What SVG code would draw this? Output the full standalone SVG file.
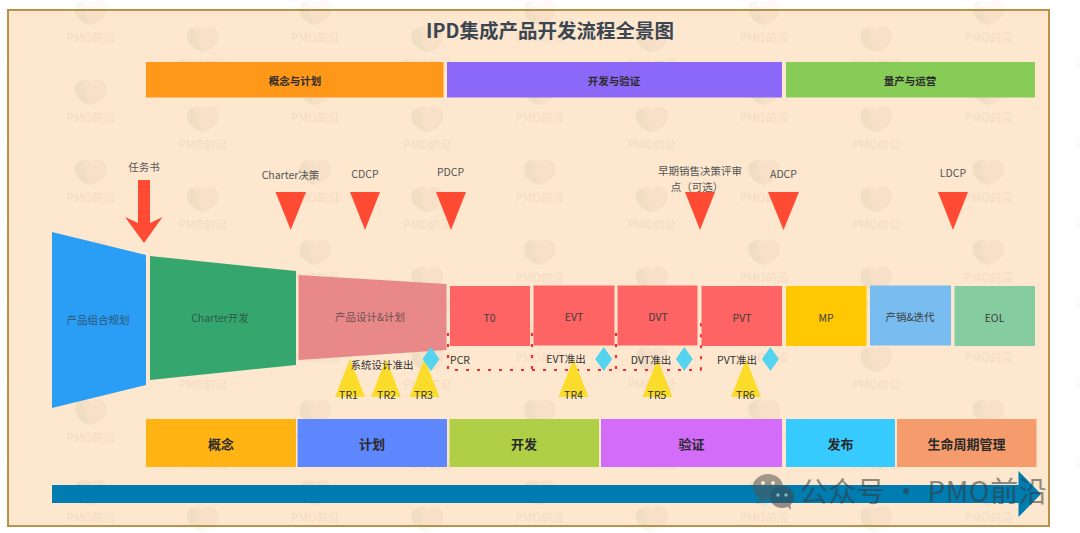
<svg xmlns="http://www.w3.org/2000/svg" width="1080" height="533" viewBox="0 0 1080 533">
<style>
text{font-family:"Noto Sans CJK SC","Noto Sans",sans-serif;text-anchor:middle;dominant-baseline:central;fill:#3a3a3a}
.l{font-size:10.500px;fill:#555}
.n{font-size:10.500px;fill:#3d3d3d}
.h{font-size:10.500px;font-weight:700;fill:#2c2c2c}
.b{font-size:13px;font-weight:700;fill:#2a2a2a}
.t{font-size:10.500px;fill:#333}
.w{font-size:11.500px;fill:#d8b8a0;fill-opacity:.3}
.red{fill:#ff4b33}.yel{fill:#fbdc2a}.dia{fill:#55d4ef}
.dash{fill:none;stroke:#fb2b2b;stroke-width:2.200;stroke-dasharray:3 8}
</style>
<defs>
<g id="wm">
<path d="M0,-11C-6,-16-16,-13-16,-4C-16,5-7,11 0,12C7,11 16,5 16,-4C16,-13 6,-16 0,-11Z" fill="#e3b6a0" fill-opacity=".16"/>
<path d="M-16,-4C-16,5-7,11 0,12C-3,6-8,-4-8,-11C-12,-13-16,-9-16,-4Z" fill="#b9d3a2" fill-opacity=".16"/>
<text class="w" x="0" y="24">PMO前沿</text>
</g>
<pattern id="wmp" patternUnits="userSpaceOnUse" x="0" y="0" width="224.400" height="80">
<use href="#wm" x="91" y="13"/>
<use href="#wm" x="203" y="40"/>
<use href="#wm" x="-21.400" y="40"/>
<use href="#wm" x="91" y="93"/>
</pattern>
</defs>
<rect width="1080" height="533" fill="#fff"/>
<rect width="1080" height="533" fill="url(#wmp)" opacity=".45"/>
<rect id="frame" x="8" y="10" width="1041" height="516" fill="#fde8cf" stroke="#b8914a" stroke-width="2"/>
<rect x="9" y="11" width="1039" height="514" fill="url(#wmp)"/>
<text x="550" y="29" style="font-size:19.500px;font-weight:700;fill:#3c4650">IPD集成产品开发流程全景图</text>

<g id="phase-top">
<rect x="146" y="62" width="297.500" height="35.500" fill="#ff9718"/><text class="h" x="295" y="80">概念与计划</text>
<rect x="447" y="62" width="335" height="35.500" fill="#8c68f8"/><text class="h" x="614" y="80">开发与验证</text>
<rect x="786" y="62" width="249" height="35.500" fill="#87cc56"/><text class="h" x="910" y="80">量产与运营</text>
</g>

<g id="task-book">
<text class="l" x="144" y="166">任务书</text>
<path class="red" d="M138,180H150V223L162.500,217L144,243L125,217L138,223Z"/>
</g>
<g id="decision-points">
<text class="l" x="290.500" y="174">Charter决策</text><path class="red" d="M275.500,192H306L290.700,230Z"/>
<text class="l" x="365" y="173">CDCP</text><path class="red" d="M350,192H380L365,230Z"/>
<text class="l" x="450.500" y="171">PDCP</text><path class="red" d="M436,192H466L451,230Z"/>
<text class="l" x="700" y="170">早期销售决策评审</text><text class="l" x="697" y="186">点（可选）</text><path class="red" d="M685,192H715L700,230Z"/>
<text class="l" x="783.500" y="173">ADCP</text><path class="red" d="M768,192H799L783.500,230Z"/>
<text class="l" x="953" y="172">LDCP</text><path class="red" d="M938,192H968L953,230Z"/>
</g>

<g id="connectors">
<path class="dash" d="M448,333V370H532M532,333V375M532,370H616M616,333V370H700Q701,370 701,368V322"/>
</g>

<g id="funnel">
<g id="n-portfolio"><path d="M52,232L146,255V385L52,408Z" fill="#2a9df4"/><text class="n" x="98" y="319" style="fill:#2f5673">产品组合规划</text></g>
<g id="n-charter"><path d="M150,256L296,271V365L150,380Z" fill="#35a76e"/><text class="n" x="220" y="317" style="fill:#2c5a4a">Charter开发</text></g>
<g id="n-design"><path d="M298.500,275L446.500,284V350L298.500,360Z" fill="#e98888"/><text class="n" x="370" y="316" style="fill:#6b5050">产品设计&amp;计划</text></g>
</g>

<g id="stages">
<g id="n-t0"><rect x="450" y="286" width="80" height="60" fill="#ff6464"/><text class="n" x="489.500" y="317">T0</text></g>
<g id="n-evt"><rect x="533.500" y="285.500" width="81" height="60" fill="#ff6464"/><text class="n" x="574" y="316">EVT</text></g>
<g id="n-dvt"><rect x="617.500" y="285.500" width="80" height="60" fill="#ff6464"/><text class="n" x="658" y="316">DVT</text></g>
<g id="n-pvt"><rect x="701.500" y="286" width="80.500" height="60" fill="#ff6464"/><text class="n" x="742" y="317">PVT</text></g>
<g id="n-mp"><rect x="786" y="286" width="80.500" height="60" fill="#ffc800"/><text class="n" x="826" y="317">MP</text></g>
<g id="n-sale"><rect x="870" y="285.500" width="81" height="60" fill="#78bcf0"/><text class="n" x="910" y="316">产销&amp;迭代</text></g>
<g id="n-eol"><rect x="954.500" y="286" width="80.500" height="60" fill="#85cca0"/><text class="n" x="994.500" y="317">EOL</text></g>
</g>

<g id="tr-marks">
<path class="yel" d="M335,397L350,359L365,397Z"/>
<path class="yel" d="M371,397L386,359L401,397Z"/>
<path class="yel" d="M409.500,397L424.500,359L439.500,397Z"/>
<path class="yel" d="M558.500,397L573.500,359L588.500,397Z"/>
<path class="yel" d="M642.500,397L657.500,359L672.500,397Z"/>
<path class="yel" d="M731,397L746,359L761,397Z"/>
<text class="t" x="348.500" y="394">TR1</text><text class="t" x="386.500" y="394">TR2</text><text class="t" x="423.500" y="394">TR3</text>
<text class="t" x="573.500" y="394">TR4</text><text class="t" x="657" y="394">TR5</text><text class="t" x="745.500" y="394">TR6</text>
</g>
<g id="gates">
<path class="dia" d="M431,347L439.500,359L431,371L422.500,359Z"/>
<path class="dia" d="M603.700,347L612.200,359L603.700,371L595.200,359Z"/>
<path class="dia" d="M684.300,347L692.800,359L684.300,371L675.800,359Z"/>
<path class="dia" d="M770.400,347L778.900,359L770.400,371L761.900,359Z"/>
<text class="t" x="382" y="364">系统设计准出</text>
<text class="t" x="460" y="359">PCR</text>
<text class="t" x="566" y="358.500">EVT准出</text>
<text class="t" x="651" y="359.500">DVT准出</text>
<text class="t" x="737" y="359">PVT准出</text>
</g>

<g id="phase-bottom">
<rect x="146" y="419" width="150" height="48" fill="#ffb413"/><text class="b" x="221" y="443">概念</text>
<rect x="297.500" y="419" width="149.500" height="48" fill="#5f87fd"/><text class="b" x="372" y="443">计划</text>
<rect x="449.500" y="419" width="149.500" height="48" fill="#afcf47"/><text class="b" x="524" y="443">开发</text>
<rect x="601" y="419" width="181" height="48" fill="#d26cf9"/><text class="b" x="691.500" y="443">验证</text>
<rect x="786" y="419" width="109" height="48" fill="#36caff"/><text class="b" x="840.500" y="443">发布</text>
<rect x="897" y="419" width="139.500" height="48" fill="#f59b6c"/><text class="b" x="966.500" y="443">生命周期管理</text>
</g>

<path id="timeline" d="M52,485H1018.500V471L1041,494L1018.500,517V503H52Z" fill="#007cb0"/>

<g id="account-mark" opacity=".55">
<ellipse cx="768" cy="487" rx="15" ry="13" fill="#555"/>
<path d="M760,497L757,504L767,499Z" fill="#555"/>
<ellipse cx="782" cy="497" rx="12" ry="11" fill="#444"/>
<path d="M786,505L791,510L790,502Z" fill="#444"/>
<circle cx="763" cy="483" r="2" fill="#fde8cf"/><circle cx="773" cy="483" r="2" fill="#fde8cf"/>
<circle cx="778" cy="495" r="1.700" fill="#fde8cf"/><circle cx="786" cy="495" r="1.700" fill="#fde8cf"/>
<text x="923.500" y="490" style="font-size:28px;fill:#3a3a3a;letter-spacing:.5px">公众号 · PMO前沿</text>
</g>
</svg>
